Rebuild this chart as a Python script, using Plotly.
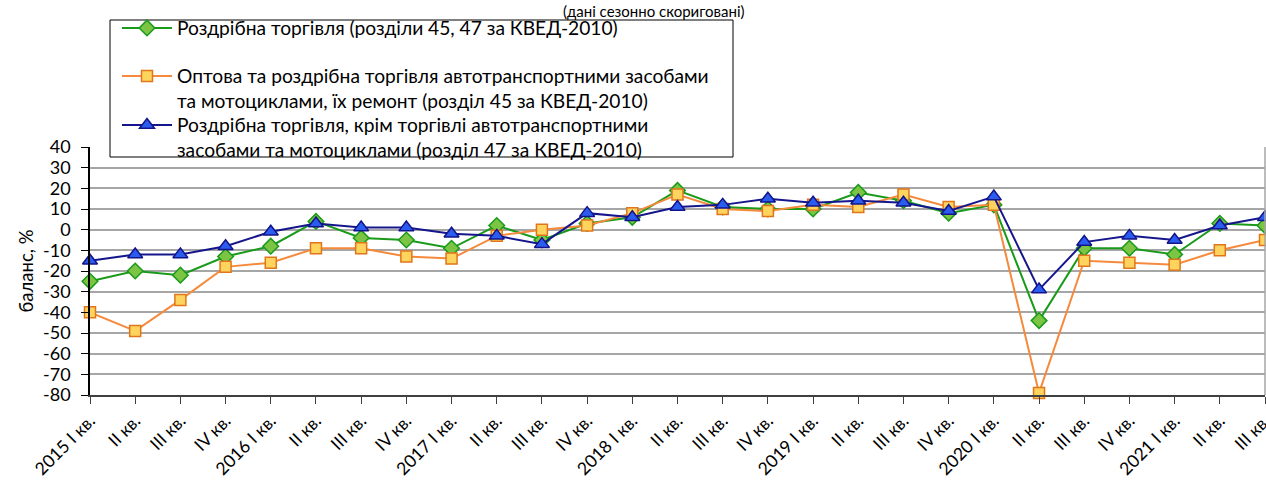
import plotly.graph_objects as go

quarters = ["2015 I кв.", "II кв.", "III кв.", "IV кв.",
            "2016 I кв.", "II кв.", "III кв.", "IV кв.",
            "2017 I кв.", "II кв.", "III кв.", "IV кв.",
            "2018 I кв.", "II кв.", "III кв.", "IV кв.",
            "2019 I кв.", "II кв.", "III кв.", "IV кв.",
            "2020 I кв.", "II кв.", "III кв.", "IV кв.",
            "2021 I кв.", "II кв.", "III кв."]

retail_45_47 = [-25, -20, -22, -13, -8, 4, -4, -5, -9, 2, -5, 3, 6, 19, 11, 10, 10, 18, 14, 8, 12,
                -44, -9, -9, -12, 3, 2]
auto_45 = [-40, -49, -34, -18, -16, -9, -9, -13, -14, -3, 0, 2, 8, 17, 10, 9, 12, 11, 17, 11, 12,
           -79, -15, -16, -17, -10, -5]
retail_47 = [-15, -12, -12, -8, -1, 3, 1, 1, -2, -3, -7, 8, 6, 11, 12, 15, 13, 14, 13, 9, 16,
             -29, -6, -3, -5, 2, 6]

y_tickvals = [40, 30, 20, 10, 0, -10, -20, -30, -40, -50, -60, -70, -80]
y_ticktext = ["40", "30", "20", "10", "0", "-10", "-20", "-30", "-40", "-50", "-60", "-70", "-80"]

names = ["Роздрібна торгівля (розділи 45, 47 за КВЕД-2010)",
         "Оптова та роздрібна торгівля автотранспортними засобами<br>та мотоциклами, їх ремонт (розділ 45 за КВЕД-2010)",
         "Роздрібна торгівля, крім торгівлі автотранспортними<br>засобами та мотоциклами (розділ 47 за КВЕД-2010)"]

title_text = "(дані сезонно скориговані)"
y_title = "баланс, %"

FONT = "Lato"
x = list(range(len(quarters)))

# plot area in window pixels (page body margin removed below)
W, H = 1266, 487
PL, PR, PT, PB = 90, 1265, 147, 395


def px(X):
    return (X - PL) / (PR - PL)


def py(Y):
    return (PB - Y) / (PB - PT)


fig = go.Figure()
fig.add_trace(go.Scatter(
    x=x, y=retail_45_47, name=names[0], mode="lines+markers", legend="legend",
    line=dict(color="#1a9a1a", width=2),
    marker=dict(symbol="diamond", size=12, color="#7cc444",
                line=dict(color="#1a9a1a", width=1.5)),
    cliponaxis=False))
fig.add_trace(go.Scatter(
    x=x, y=auto_45, name=names[1], mode="lines+markers", legend="legend2",
    line=dict(color="#f58a3c", width=2),
    marker=dict(symbol="square", size=11, color="#ffd45e",
                line=dict(color="#e0761c", width=1.5)),
    cliponaxis=False))
fig.add_trace(go.Scatter(
    x=x, y=retail_47, name=names[2], mode="lines+markers", legend="legend3",
    line=dict(color="#16168c", width=2),
    marker=dict(symbol="triangle-up", size=13, color="#2a5cf0",
                line=dict(color="#14148a", width=1.5)),
    cliponaxis=False))


def leg(top):
    return dict(
        x=px(117), y=py(top), xanchor="left", yanchor="top",
        bgcolor="rgba(0,0,0,0)", borderwidth=0,
        font=dict(family=FONT, size=19.2, color="black"),
        valign="top", itemwidth=50, tracegroupgap=0,
    )


fig.update_layout(
    width=W, height=H,
    margin=dict(l=PL, r=W - PR, t=PT, b=H - PB, autoexpand=False),
    paper_bgcolor="white", plot_bgcolor="white",
    font=dict(family=FONT, size=16, color="black"),
    showlegend=True,
    legend=leg(9), legend2=leg(57), legend3=leg(106),
    xaxis=dict(
        range=[0, 26], tickmode="array", tickvals=x, ticktext=quarters,
        tickangle=-45, showgrid=False, zeroline=False, automargin=False,
        ticklabeloverflow="allow",
        showline=True, linecolor="#404040", linewidth=1.5,
        ticks="outside", ticklen=7, tickcolor="#404040", tickwidth=1,
        tickfont=dict(family=FONT, size=17.5, color="black"),
    ),
    yaxis=dict(
        range=[-80, 40], tickmode="array", tickvals=y_tickvals, ticktext=y_ticktext,
        automargin=False,
        showgrid=True, gridcolor="#a6a6a6", gridwidth=1.5,
        zeroline=False, showline=True, linecolor="black", linewidth=1.5,
        ticks="outside", ticklen=7, tickcolor="black", ticklabelstandoff=7,
        tickfont=dict(family=FONT, size=18, color="black"),
        title=dict(text=y_title, font=dict(family=FONT, size=18.5, color="black"), standoff=5),
    ),
    annotations=[dict(
        text=title_text, xref="paper", yref="paper",
        x=px(654), y=py(0), xanchor="center", yanchor="top",
        showarrow=False, font=dict(family=FONT, size=15, color="black"))],
    shapes=[
        dict(type="line", xref="paper", yref="paper", x0=1, x1=1, y0=0, y1=1,
             line=dict(color="#a6a6a6", width=1.5)),
        dict(type="rect", xref="paper", yref="paper", layer="above",
             x0=px(110), x1=px(733), y0=py(157), y1=py(20),
             fillcolor="white", line=dict(color="black", width=1)),
    ],
)

fig.write_html("out.html", config={"displayModeBar": False},
               post_script="document.body.style.margin='0';")
